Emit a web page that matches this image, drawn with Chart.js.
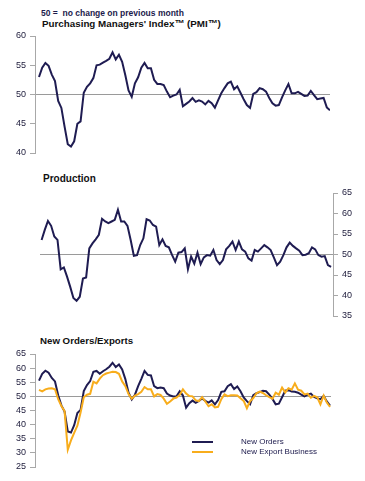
<!DOCTYPE html>
<html>
<head>
<meta charset="utf-8">
<script src="https://cdn.jsdelivr.net/npm/chart.js@4"></script>
<style>
  html, body { margin: 0; padding: 0; background: #fff; }
  #wrap { position: relative; width: 365px; height: 481px; overflow: hidden; font-family: "Liberation Sans", Arial, sans-serif; }
  .txt { position: absolute; white-space: nowrap; }
  .cv { position: absolute; left: 0; }
  .sw { position: absolute; height: 2px; width: 21px; }
</style>
</head>
<body>
<div id="wrap">
  <div class="txt" id="note" style="left:41px; top:8px; font-size:8.5px; font-weight:bold; color:#1c1a4c;">50 = &nbsp;no change on previous month</div>
  <div class="txt" id="t1" style="left:42px; top:18px; font-size:9.8px; font-weight:bold; color:#111;">Purchasing Managers' Index™ (PMI™)</div>
  <div class="txt" id="t2" style="left:43px; top:173px; font-size:10px; font-weight:bold; color:#111;">Production</div>
  <div class="txt" id="t3" style="left:40px; top:335px; font-size:9.7px; font-weight:bold; color:#111;">New Orders/Exports</div>
  <canvas class="cv" id="c1" width="365" height="130" style="top:30px"></canvas>
  <canvas class="cv" id="c2" width="365" height="170" style="top:160px"></canvas>
  <canvas class="cv" id="c3" width="365" height="151" style="top:330px"></canvas>
  <div class="sw" style="left:192px; top:441px; background:#1f1c52;"></div>
  <div class="sw" style="left:192px; top:451px; background:#f8ad1c;"></div>
  <div class="txt" style="left:241px; top:437px; font-size:8px; color:#1c1a4c;">New Orders</div>
  <div class="txt" style="left:241px; top:447px; font-size:8px; color:#1c1a4c;">New Export Business</div>
</div>
<script>
// ---- data (monthly readings) ----
const pmi = [53.0,54.6,55.4,54.9,53.4,52.3,48.9,47.7,44.5,41.5,41.1,42.0,45.0,45.4,50.3,51.3,51.9,52.8,55.0,55.1,
  55.45,55.75,56.1,57.2,56.0,56.8,55.6,53.3,50.7,49.6,51.9,52.95,54.6,55.4,54.5,54.5,52.5,51.8,51.8,51.6,
  50.5,49.55,49.8,50.0,50.8,48.0,48.4,48.8,49.4,48.75,49.0,48.8,48.3,48.9,48.5,47.75,49.0,50.2,51.1,51.9,
  52.2,50.9,51.4,50.3,49.2,48.2,47.7,50.1,50.4,51.1,50.9,50.5,49.4,48.5,48.1,48.2,49.5,50.7,51.8,50.2,
  50.2,50.45,50.1,49.75,49.8,50.6,49.9,49.2,49.3,49.4,47.8,47.3];
const production = [53.55,56.0,58.2,57.0,54.4,53.55,46.4,46.85,44.6,42.1,39.4,38.7,39.7,44.15,44.4,51.5,52.7,53.7,54.8,58.7,
  58.05,57.65,58.05,58.45,60.9,58.05,58.05,57.0,53.55,49.7,49.85,52.3,53.95,58.6,58.3,57.2,56.8,52.3,53.7,52.1,
  51.75,49.9,48.25,50.45,50.6,51.5,46.4,49.5,47.8,50.45,47.65,49.3,49.85,49.7,51.1,48.65,47.65,48.65,51.25,52.1,
  53.15,51.1,53.15,51.25,50.7,49.05,48.5,51.1,50.7,51.5,52.3,51.75,51.1,49.3,47.4,48.25,49.85,51.75,52.9,52.1,
  51.5,50.95,49.85,49.95,50.3,51.75,51.25,49.85,49.45,49.6,47.4,47.0];
const newOrders = [55.6,58.0,59.1,58.4,56.5,55.3,50.4,46.8,44.6,37.6,37.2,39.8,44.1,45.2,51.9,54.0,55.4,58.7,59.0,58.0,
  58.9,59.6,60.5,61.9,60.4,61.3,59.5,56.1,51.3,48.9,50.6,53.6,56.2,59.0,57.6,57.4,53.6,52.9,53.1,52.9,
  51.0,50.3,50.0,50.0,51.8,50.3,46.0,47.6,48.5,47.7,48.4,49.3,48.4,47.8,48.6,47.2,48.7,51.6,51.8,53.6,
  54.3,52.6,53.5,51.8,49.6,48.3,47.2,50.4,51.1,51.5,52.0,51.8,50.6,49.1,47.2,47.4,49.7,52.0,52.2,51.7,
  51.6,51.3,50.6,50.0,50.6,51.0,49.8,49.3,49.0,50.2,48.2,46.7];
const newExportBusiness = [52.3,51.8,52.5,52.8,52.9,52.5,49.0,46.6,44.8,31.1,34.4,37.1,39.6,44.3,49.7,50.6,50.9,55.2,54.6,56.3,
  57.5,58.1,58.4,58.7,58.6,58.0,55.3,53.6,50.8,49.2,50.3,50.8,51.6,53.3,52.5,52.5,50.0,50.8,50.5,49.2,
  47.4,48.2,49.2,49.6,50.5,52.5,51.0,50.1,50.0,48.6,48.3,49.7,48.2,46.5,47.2,46.1,46.3,49.0,50.7,50.1,
  50.4,50.4,50.3,49.3,48.4,45.8,48.3,49.4,51.1,51.7,51.2,50.4,49.7,49.2,51.3,50.6,53.1,51.4,52.9,52.4,
  54.6,52.4,52.0,50.7,51.0,49.5,50.2,49.7,47.2,50.3,47.8,46.3];
const months = pmi.map((_, i) => i);          // month index along the x axis
const pmiTicks = [40, 45, 50, 55, 60];
const productionTicks = [35, 40, 45, 50, 55, 60, 65];
const ordersTicks = [25, 30, 35, 40, 45, 50, 55, 60, 65];

// ---- styling ----
const NAVY = '#1f1c52';
const ORANGE = '#f8ad1c';
const AXIS = '#a8a8a8';
const REF = '#9a9a9a';
const FONT = { family: '"Liberation Sans", Arial, sans-serif', size: 9 };
Chart.defaults.font = FONT;
Chart.defaults.color = '#1c1a3a';

const pts = arr => arr.map((v, i) => ({ x: months[i], y: v }));

function yScale(ticks, position, width) {
  return {
    type: 'linear', position,
    min: ticks[0], max: ticks[ticks.length - 1],
    afterBuildTicks: s => { s.ticks = ticks.map(v => ({ value: v })); },
    afterFit: s => { s.width = width; s.paddingTop = 0; s.paddingBottom = 0; },
    border: { display: true, color: AXIS, width: 1 },
    grid: {
      drawOnChartArea: true, drawTicks: true, tickLength: 5, tickColor: AXIS,
      color: c => (c.tick && c.tick.value === 50) ? REF : 'rgba(0,0,0,0)',
      lineWidth: 1
    },
    ticks: { padding: 4, color: '#1c1a3a', font: FONT }
  };
}

function makeChart(id, datasets, ticks, pos, width, padding, xmin, xmax) {
  return new Chart(document.getElementById(id), {
    type: 'line',
    data: { datasets },
    options: {
      responsive: false, animation: false, devicePixelRatio: 1,
      layout: { padding },
      plugins: { legend: { display: false }, tooltip: { enabled: false } },
      elements: { point: { radius: 0 }, line: { borderWidth: 2, tension: 0 } },
      scales: {
        x: { type: 'linear', display: false, min: xmin, max: xmax },
        y: yScale(ticks, pos, width)
      }
    }
  });
}

makeChart('c1',
  [{ label: 'PMI', data: pts(pmi), borderColor: NAVY }],
  pmiTicks, 'left', 35, { top: 6, bottom: 7, left: 0, right: 35 }, -1.25, 91);

makeChart('c2',
  [{ label: 'Production', data: pts(production), borderColor: NAVY }],
  productionTicks, 'right', 32, { top: 33, bottom: 14, left: 40, right: 0 }, -0.5, 91.6);

makeChart('c3',
  [
    { label: 'New Export Business', data: pts(newExportBusiness), borderColor: ORANGE, order: 0 },
    { label: 'New Orders', data: pts(newOrders), borderColor: NAVY, order: 1 }
  ],
  ordersTicks, 'left', 35, { top: 24, bottom: 14, left: 0, right: 34 }, -1.25, 91.3);
</script>
</body>
</html>
